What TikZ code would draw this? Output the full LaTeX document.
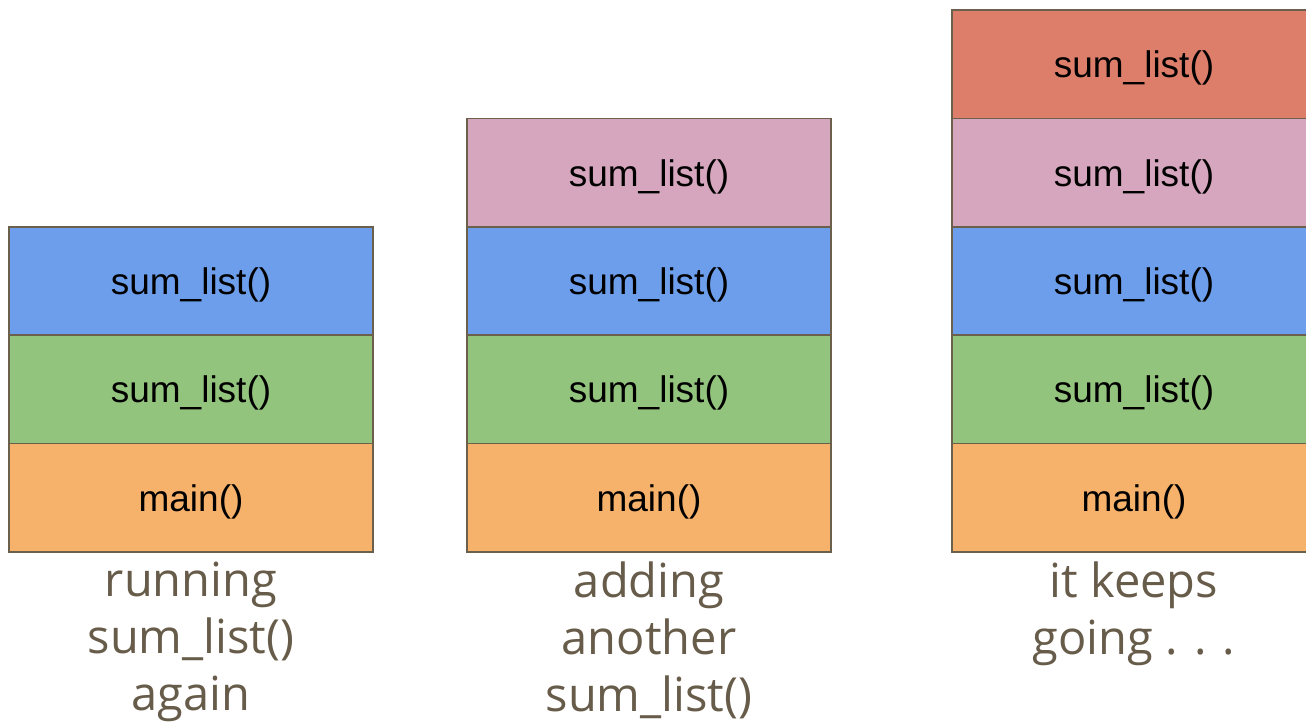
\documentclass[tikz,border=0pt]{standalone}
\usepackage{fontspec}
\setmainfont{Liberation Sans}
\newfontfamily\capfont{Open Sans}
\usetikzlibrary{positioning}
\definecolor{edgec}{HTML}{6B604C}
\definecolor{capc}{HTML}{675C4A}
\definecolor{mainc}{HTML}{F6B26B}
\definecolor{greenc}{HTML}{93C47D}
\definecolor{bluec}{HTML}{6D9EEB}
\definecolor{pinkc}{HTML}{D5A6BD}
\definecolor{redc}{HTML}{DD7E6B}
\tikzset{
	frame/.style={rectangle,draw=edgec,line width=1.5pt,minimum width=364pt,
		minimum height=108.4pt,inner sep=0pt,outer sep=0pt,text depth=0pt,
		font=\fontsize{37}{44}\selectfont},
	caption/.style={align=center,text=capc,inner sep=0pt,font=\capfont\fontsize{47}{57}\selectfont}
}

\begin{document}
\begin{tikzpicture}[x=1pt,y=1pt]
		\useasboundingbox (0,0) rectangle (1306,721);
		% first stack
		\node[frame,fill=mainc] (1) at (191,223.2)       {main()};
		\node[frame,fill=greenc,above=0pt of 1] (2)      {sum\_list()};
		\node[frame,fill=bluec,above=0pt of 2] (3)       {sum\_list()};
		% second stack
		\node[frame,fill=mainc] (4) at (649,223.2)       {main()};
		\node[frame,fill=greenc,above=0pt of 4] (5)      {sum\_list()};
		\node[frame,fill=bluec,above=0pt of 5] (6)       {sum\_list()};
		\node[frame,fill=pinkc,above=0pt of 6] (7)       {sum\_list()};
		% third stack
		\node[frame,fill=mainc] (8) at (1134,223.2)      {main()};
		\node[frame,fill=greenc,above=0pt of 8] (9)      {sum\_list()};
		\node[frame,fill=bluec,above=0pt of 9] (10)      {sum\_list()};
		\node[frame,fill=pinkc,above=0pt of 10] (11)     {sum\_list()};
		\node[frame,fill=redc,above=0pt of 11] (12)      {sum\_list()};

		\node[caption,below=9.5pt of 1] (c1) {running\\sum\_list()\\again};
		\node[caption,below=9.5pt of 4] (c2) {adding\\another\\sum\_list()};
		\node[caption,below=9.5pt of 8] (c3) {it keeps\\going . . .};
\end{tikzpicture}
\end{document}
